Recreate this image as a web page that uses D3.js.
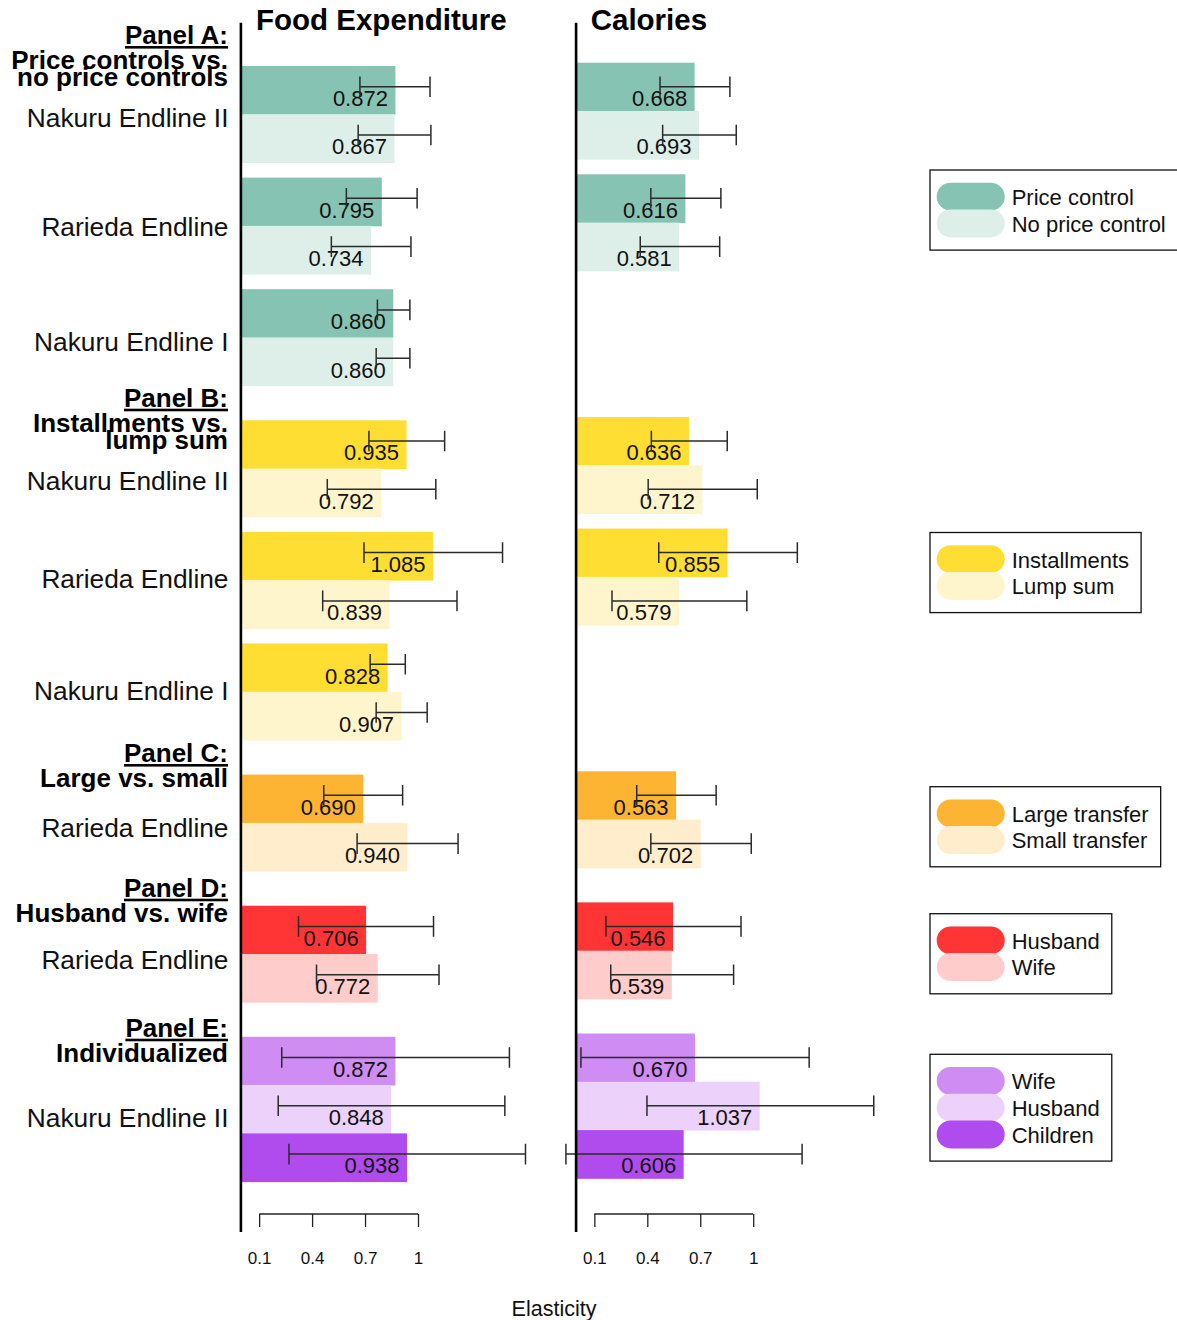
<!DOCTYPE html>
<html>
<head>
<meta charset="utf-8">
<script src="https://cdn.jsdelivr.net/npm/d3@7"></script>
<style>
  html, body { margin: 0; padding: 0; background: #fff; }
  svg { display: block; font-family: "Liberation Sans", Arial, Helvetica, sans-serif; }
</style>
</head>
<body>
<script>
// ---------- data ----------
const panelTitles = ["Panel A:", "Panel B:", "Panel C:", "Panel D:", "Panel E:"];
const panelSubtitles = [
  ["Price controls vs.", "no price controls"],
  ["Installments vs.", "lump sum"],
  ["Large vs. small"],
  ["Husband vs. wife"],
  ["Individualized"]
];
const seriesNames = [
  ["Price control", "No price control"],
  ["Installments", "Lump sum"],
  ["Large transfer", "Small transfer"],
  ["Husband", "Wife"],
  ["Wife", "Husband", "Children"]
];
// which panel each row group belongs to
const groupPanel = [0, 0, 0, 1, 1, 1, 2, 3, 4];
const groupLabels = [
  "Nakuru Endline II", "Rarieda Endline", "Nakuru Endline I",
  "Nakuru Endline II", "Rarieda Endline", "Nakuru Endline I",
  "Rarieda Endline", "Rarieda Endline", "Nakuru Endline II"
];

// Food expenditure elasticities: estimate, lower and upper interval bound
const foodEstimate = [[0.872, 0.867], [0.795, 0.734], [0.860, 0.860], [0.935, 0.792], [1.085, 0.839], [0.828, 0.907], [0.690, 0.940], [0.706, 0.772], [0.872, 0.848, 0.938]];
const foodLow      = [[0.671, 0.661], [0.594, 0.509], [0.770, 0.763], [0.722, 0.486], [0.694, 0.460], [0.729, 0.763], [0.466, 0.655], [0.323, 0.425], [0.228, 0.208, 0.269]];
const foodHigh     = [[1.068, 1.073], [0.995, 0.960], [0.954, 0.954], [1.151, 1.101], [1.479, 1.221], [0.928, 1.052], [0.913, 1.227], [1.088, 1.119], [1.518, 1.492, 1.609]];

// Calorie elasticities (no Nakuru Endline I estimates)
const calEstimate = [[0.668, 0.693], [0.616, 0.581], [null, null], [0.636, 0.712], [0.855, 0.579], [null, null], [0.563, 0.702], [0.546, 0.539], [0.670, 1.037, 0.606]];
const calLow      = [[0.472, 0.487], [0.420, 0.360], [null, null], [0.423, 0.405], [0.465, 0.200], [null, null], [0.340, 0.420], [0.166, 0.193], [0.024, 0.398, -0.061]];
const calHigh     = [[0.868, 0.904], [0.817, 0.810], [null, null], [0.853, 1.023], [1.250, 0.964], [null, null], [0.790, 0.989], [0.931, 0.889], [1.317, 1.683, 1.277]];

const tickValues = [0.1, 0.4, 0.7, 1];
const tickLabels = ["0.1", "0.4", "0.7", "1"];

// ---------- styles ----------
const seriesColors = [
  ["#87c3b3", "#deefea"],
  ["#ffde33", "#fff5cc"],
  ["#feb433", "#ffedcc"],
  ["#ff3535", "#ffcccc"],
  ["#cf8cf3", "#ecd2fb", "#b04bee"]
];

// ---------- layout ----------
const W = 1177, H = 1320;
const barH = 48.3, withinGap = 15, panelGap = 34.5;
const rowsTop = 66;
const labelRight = 228.5;
const labelShift = [13, 10, 13.5, 21.5, 8, 8, 14, 14.5, 17.5];
const headingY = [44, 406.7, 762, 896.7, 1036.7];
const legendTop = [170, 532.5, 786.7, 913.7, 1054.3];
const legendLeft = 930;
const axisY = 1214;
const unitPx = 176.5;

const charts = [
  { title: "Food Expenditure", titleX: 256, x0: 241.5, barShift: 0,
    est: foodEstimate, low: foodLow, high: foodHigh },
  { title: "Calories", titleX: 590.7, x0: 576.7, barShift: -3.3,
    est: calEstimate, low: calLow, high: calHigh }
];

const svg = d3.select("body").append("svg")
  .attr("width", W).attr("height", H);

function groupTops(top0) {
  const tops = [];
  let y = top0;
  groupLabels.forEach((_, g) => {
    if (g > 0) {
      const prevN = seriesNames[groupPanel[g - 1]].length;
      y += prevN * barH + (groupPanel[g] !== groupPanel[g - 1] ? panelGap : withinGap);
    }
    tops.push(y);
  });
  return tops;
}

const tops = groupTops(rowsTop);

charts.forEach(ch => {
  const x = d3.scaleLinear().domain([0, 1]).range([ch.x0, ch.x0 + unitPx]);
  const gChart = svg.append("g");

  tops.forEach((top, g) => {
    const p = groupPanel[g];
    const n = seriesNames[p].length;
    const y = d3.scaleBand().domain(d3.range(n)).range([top, top + n * barH]).padding(0);
    const rows = d3.range(n).map(i => ({
      i, v: ch.est[g][i], lo: ch.low[g][i], hi: ch.high[g][i], color: seriesColors[p][i]
    })).filter(r => r.v !== null);

    const grp = gChart.append("g");
    grp.selectAll("rect.bar").data(rows).join("rect")
      .attr("class", "bar")
      .attr("x", x(0))
      .attr("y", r => y(r.i) + ch.barShift)
      .attr("width", r => x(r.v) - x(0))
      .attr("height", y.bandwidth() + 0.4)
      .attr("fill", r => r.color);

    grp.selectAll("text.val").data(rows).join("text")
      .attr("class", "val")
      .attr("x", r => x(r.v) - 35)
      .attr("y", r => y(r.i) + 40)
      .attr("text-anchor", "middle")
      .attr("font-size", 22)
      .attr("fill", "#111")
      .text(r => r.v.toFixed(3));

    grp.selectAll("path.err").data(rows).join("path")
      .attr("class", "err")
      .attr("d", r => {
        const cy = y(r.i) + 20.7, x1 = x(r.lo), x2 = x(r.hi), c = 10.3;
        return `M${x1},${cy}H${x2}M${x1},${cy - c}V${cy + c}M${x2},${cy - c}V${cy + c}`;
      })
      .attr("fill", "none")
      .attr("stroke", "#2b2b2b")
      .attr("stroke-width", 1.5);
  });

  // vertical baseline
  gChart.append("line")
    .attr("x1", x(0) - 0.6).attr("x2", x(0) - 0.6)
    .attr("y1", 22.7).attr("y2", 1232)
    .attr("stroke", "#000").attr("stroke-width", 2.6);

  // title
  svg.append("text")
    .attr("x", ch.titleX).attr("y", 29.5)
    .attr("font-size", 29.5).attr("font-weight", "bold")
    .attr("fill", "#000")
    .text(ch.title);

  // bottom axis
  const axis = d3.axisBottom(x)
    .tickValues(tickValues)
    .tickFormat((d, i) => tickLabels[i])
    .tickSizeInner(13).tickSizeOuter(0).tickPadding(25);
  const ga = svg.append("g").attr("transform", `translate(0,${axisY})`).call(axis);
  ga.select(".domain")
    .attr("d", `M${x(tickValues[0])},0H${x(tickValues[tickValues.length - 1])}`)
    .attr("stroke", "#222").attr("stroke-width", 1.3);
  ga.selectAll(".tick line").attr("stroke", "#222").attr("stroke-width", 1.3);
  ga.selectAll(".tick text")
    .attr("font-size", 17).attr("fill", "#111")
    .attr("font-family", "'Liberation Sans', Arial, Helvetica, sans-serif");
});

// left-hand category labels
tops.forEach((top, g) => {
  const n = seriesNames[groupPanel[g]].length;
  svg.append("text")
    .attr("x", labelRight)
    .attr("y", top + n * barH / 2 + labelShift[g])
    .attr("text-anchor", "end")
    .attr("font-size", 26.3)
    .attr("fill", "#111")
    .text(groupLabels[g]);
});

// panel headings (subtitle lines are set tight, as in the printed figure)
panelTitles.forEach((t, p) => {
  svg.append("text")
    .attr("x", labelRight - 0.5).attr("y", headingY[p])
    .attr("text-anchor", "end")
    .attr("font-size", 26).attr("font-weight", "bold")
    .attr("text-decoration", "underline")
    .attr("fill", "#000")
    .text(t);
  panelSubtitles[p].forEach((s, k) => {
    svg.append("text")
      .attr("x", labelRight - 0.5).attr("y", headingY[p] + 25 + k * 17)
      .attr("text-anchor", "end")
      .attr("font-size", 26).attr("font-weight", "bold")
      .attr("fill", "#000")
      .text(s);
  });
});

// legends
seriesNames.forEach((names, p) => {
  const top = legendTop[p];
  const lg = svg.append("g");
  const box = lg.append("rect")
    .attr("x", legendLeft).attr("y", top)
    .attr("height", 12.7 * 2 + 28 + 26.7 * (names.length - 1))
    .attr("fill", "#fff").attr("stroke", "#111").attr("stroke-width", 1.3);
  let maxW = 0;
  names.forEach((nm, i) => {
    const sy = top + 12.7 + i * 26.7;
    lg.append("rect")
      .attr("x", legendLeft + 6.7).attr("y", sy)
      .attr("width", 68).attr("height", 28)
      .attr("rx", 14).attr("ry", 14)
      .attr("fill", seriesColors[p][i]);
    const t = lg.append("text")
      .attr("x", legendLeft + 81.7).attr("y", sy + 22.3)
      .attr("font-size", 22).attr("fill", "#111")
      .text(nm);
    maxW = Math.max(maxW, t.node().getComputedTextLength());
  });
  box.attr("width", 81.7 + maxW + 12);
});

// shared x-axis title
svg.append("text")
  .attr("x", 554).attr("y", 1315.5)
  .attr("text-anchor", "middle")
  .attr("font-size", 21.5).attr("fill", "#111")
  .text("Elasticity");
</script>
</body>
</html>
